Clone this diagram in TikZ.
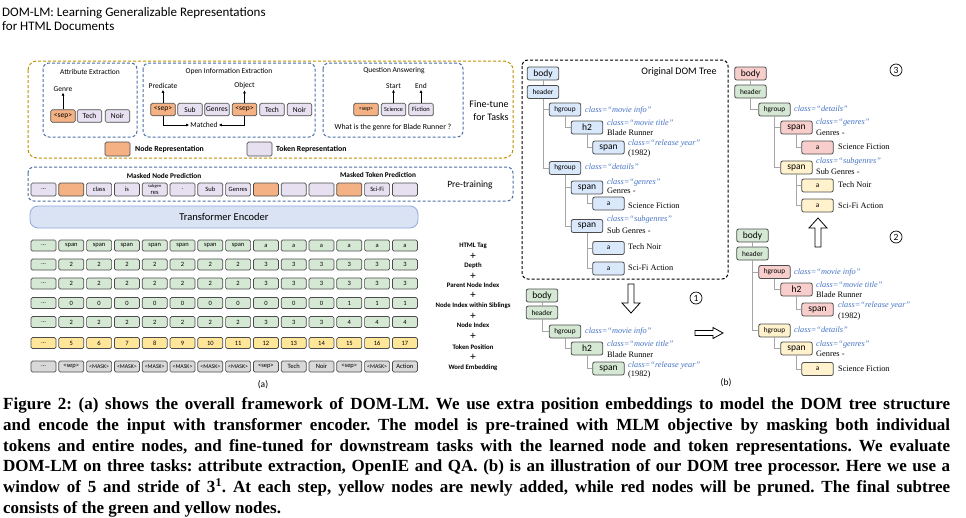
\documentclass[tikz,border=0pt]{standalone}
\usepackage{fontspec}
\setmainfont{Liberation Serif}
\newfontfamily\calib{Carlito}
\usetikzlibrary{arrows.meta}

\definecolor{nodeorg}{HTML}{F4B183}
\definecolor{toklav}{HTML}{E6E0F0}
\definecolor{rowgreen}{HTML}{D5E8D4}
\definecolor{rowyellow}{HTML}{FFE699}
\definecolor{rowgray}{HTML}{D9D9D9}
\definecolor{encblue}{HTML}{DAE3F3}
\definecolor{encline}{HTML}{8FAADC}
\definecolor{taskgold}{HTML}{BF9000}
\definecolor{taskblue}{HTML}{4A6FA8}
\definecolor{domblue}{HTML}{DAE8FC}
\definecolor{domred}{HTML}{F8CECC}
\definecolor{domyellow}{HTML}{FFF2CC}
\definecolor{domgreen}{HTML}{D5E8D4}
\definecolor{clsblue}{HTML}{4472C4}
\definecolor{edgegray}{HTML}{A6A6A6}

\newcommand\maskw{{\fontsize{5.8}{5.8}\selectfont<MASK>}}

\tikzset{
  cell/.style={draw=black!70, rounded corners=1.5pt, minimum width=25pt, minimum height=11pt,
    inner sep=0pt, align=center, line width=0.7pt, font=\calib\fontsize{6.5}{6.5}\selectfont},
  tbox/.style={cell, minimum width=24.5pt, minimum height=12.5pt, font=\calib\fontsize{7.5}{7.5}\selectfont},
  lbl/.style={inner sep=1pt, font=\calib\fontsize{7.5}{7.5}\selectfont},
  blbl/.style={inner sep=1pt, font=\calib\bfseries\fontsize{6.8}{6.8}\selectfont},
  frame/.style={dash pattern=on 3pt off 2pt, line width=1pt, rounded corners=6pt},
  arr/.style={-{Latex[length=3pt,width=3pt]}, line width=0.8pt},
  dom/.style={draw=black!70, rounded corners=2pt, minimum width=31.5pt, minimum height=13pt,
    inner sep=0pt, line width=0.8pt, font=\calib\fontsize{9.5}{9.5}\selectfont},
  domsm/.style={dom, font=\calib\fontsize{7.3}{7.3}\selectfont},
  cls/.style={anchor=mid west, inner sep=0pt, text=clsblue, font=\itshape\fontsize{8.3}{8.3}\selectfont},
  val/.style={anchor=mid west, inner sep=0pt, font=\fontsize{8.3}{8.3}\selectfont},
  tline/.style={draw=edgegray, line width=1pt},
  circled/.style={circle, draw, line width=0.7pt, minimum size=12pt, inner sep=0pt, font=\calib\fontsize{9.5}{9.5}\selectfont},
  hollow/.style={draw, fill=white, line width=0.8pt},
  capline/.style={anchor=base west, inner sep=0pt, font=\frenchspacing\bfseries\fontsize{17}{20}\selectfont}
}

\begin{document}
\begin{tikzpicture}[x=1pt,y=-1pt]
\useasboundingbox (0,0) rectangle (966,517);

% title
\node[anchor=base west, inner sep=0pt, font=\calib\fontsize{13}{13}\selectfont] (title1) at (2,16) {DOM-LM: Learning Generalizable Representations};
\node[anchor=base west, inner sep=0pt, font=\calib\fontsize{13}{13}\selectfont] (title2) at (2,30.5) {for HTML Documents};

% ---------- (a) fine-tune ----------
\draw[frame, draw=taskgold, rounded corners=9pt] (28,61) rectangle (513,158);
\draw[frame, draw=taskblue] (43,63) rectangle (137,137);
\draw[frame, draw=taskblue] (143,63) rectangle (315,137);
\draw[frame, draw=taskblue] (323,63) rectangle (463,137);

\node[lbl] (aetitle) at (90,72) {Attribute Extraction};
\node[tbox, fill=nodeorg] (aesep) at (63,116) {<sep>};
\node[tbox, fill=toklav] (aetech) at (89.5,116) {Tech};
\node[tbox, fill=toklav] (aenoir) at (117.5,116) {Noir};
\node[lbl] (genre) at (63,89) {Genre};
\draw[arr] (aesep.north) -- (genre.south);

\node[lbl] (oietitle) at (229,72) {Open Information Extraction};
\node[tbox, fill=nodeorg] (oiesep1) at (163,109.5) {<sep>};
\node[tbox, fill=toklav] (oiesub) at (190,109.5) {Sub};
\node[tbox, fill=toklav] (oiegen) at (217,109.5) {Genres};
\node[tbox, fill=nodeorg] (oiesep2) at (244.5,109.5) {<sep>};
\node[tbox, fill=toklav] (oietech) at (272,109.5) {Tech};
\node[tbox, fill=toklav] (oienoir) at (299.5,109.5) {Noir};
\node[lbl] (pred) at (163,86) {Predicate};
\node[lbl] (obj) at (244.5,86) {Object};
\node[lbl] (matched) at (204,125) {Matched};
\draw[arr] (oiesep1.north) -- (pred.south);
\draw[arr] (oiesep2.north) -- (obj.south);
\draw[arr] (oiesep1.south) |- (matched.west);
\draw[arr] (oiesep2.south) |- (matched.east);

\node[lbl] (qatitle) at (394,71) {Question Answering};
\node[tbox, fill=nodeorg, font=\calib\fontsize{6}{6}\selectfont] (qsep) at (366,109.5) {<sep>};
\node[tbox, fill=toklav, font=\calib\fontsize{6.2}{6.2}\selectfont] (qsci) at (393.5,109.5) {Science};
\node[tbox, fill=toklav, font=\calib\fontsize{6.5}{6.5}\selectfont] (qfic) at (421,109.5) {Fiction};
\node[lbl] (qstart) at (393.5,86) {Start};
\node[lbl] (qend) at (421,86) {End};
\draw[arr] (qsci.north) -- (qstart.south);
\draw[arr] (qfic.north) -- (qend.south);
\node[lbl, font=\calib\fontsize{7.8}{7.8}\selectfont] (question) at (393,127) {What is the genre for Blade Runner ?};

\node[align=right, inner sep=0pt, font=\calib\fontsize{10}{13}\selectfont] (finetune) at (489,110.5) {Fine-tune\\for Tasks};

\node[tbox, fill=nodeorg, minimum width=25pt, minimum height=14pt] (legnode) at (117.5,149) {};
\node[anchor=west, inner sep=0pt, font=\calib\bfseries\fontsize{7.8}{7.8}\selectfont] (legnodet) at (135,149) {Node Representation};
\node[tbox, fill=toklav, minimum width=25pt, minimum height=14pt] (legtok) at (259.5,149) {};
\node[anchor=west, inner sep=0pt, font=\calib\bfseries\fontsize{7.8}{7.8}\selectfont] (legtokt) at (276,149) {Token Representation};

% ---------- (a) pre-training ----------
\draw[frame, draw=taskblue] (28,167) rectangle (513,201);
\node[blbl, font=\calib\bfseries\fontsize{7.3}{7.3}\selectfont] (mnp) at (164,176) {Masked Node Prediction};
\node[blbl, font=\calib\bfseries\fontsize{7.3}{7.3}\selectfont] (mtp) at (378,174.5) {Masked Token Prediction};
\node[lbl, font=\calib\fontsize{9.5}{9.5}\selectfont] (pretrain) at (470,185) {Pre-training};
\node[cell, fill=toklav, minimum height=13pt] (pt1) at (43.5,189.5) {...};
\foreach \f/\w [count=\i from 2] in {nodeorg/{}, toklav/class, toklav/is, toklav/{\fontsize{4.5}{4.8}\selectfont subgen\\res}, toklav/., toklav/Sub, toklav/Genres, nodeorg/{}, toklav/{}, toklav/{}, nodeorg/{}, toklav/Sci-Fi, toklav/{}}
  \node[cell, fill=\f, minimum height=13pt] (pt\i) at ({43.5+(\i-1)*27.8},189.5) {\w};

\draw[draw=encline, fill=encblue, line width=0.8pt, rounded corners=8pt] (30,206) rectangle (418,228);
\node[inner sep=0pt, font=\calib\fontsize{10.5}{10.5}\selectfont] (encoder) at (224,217) {Transformer Encoder};

% ---------- (a) input rows ----------
\foreach \r/\y/\f in {tag/245.5/rowgreen, dep/264.5/rowgreen, par/283.5/rowgreen, sib/303/rowgreen, nid/322/rowgreen, pos/343/rowyellow, wrd/366.5/rowgray}
  \node[cell, fill=\f] (\r1) at (43.5,\y) {...};
\foreach \w [count=\i from 2] in {span,span,span,span,span,span,span,a,a,a,a,a,a}
  \node[cell, fill=rowgreen] (tag\i) at ({43.5+(\i-1)*27.8},245.5) {\w};
\foreach \w [count=\i from 2] in {2,2,2,2,2,2,2,3,3,3,3,3,3}
  \node[cell, fill=rowgreen] (dep\i) at ({43.5+(\i-1)*27.8},264.5) {\w};
\foreach \w [count=\i from 2] in {2,2,2,2,2,2,2,3,3,3,3,3,3}
  \node[cell, fill=rowgreen] (par\i) at ({43.5+(\i-1)*27.8},283.5) {\w};
\foreach \w [count=\i from 2] in {0,0,0,0,0,0,0,0,0,0,1,1,1}
  \node[cell, fill=rowgreen] (sib\i) at ({43.5+(\i-1)*27.8},303) {\w};
\foreach \w [count=\i from 2] in {2,2,2,2,2,2,2,3,3,3,4,4,4}
  \node[cell, fill=rowgreen] (nid\i) at ({43.5+(\i-1)*27.8},322) {\w};
\foreach \i in {2,...,14}
  \node[cell, fill=rowyellow] (pos\i) at ({43.5+(\i-1)*27.8},343) {\number\numexpr\i+3\relax};
\foreach \w [count=\i from 2] in {<sep>,\maskw,\maskw,\maskw,\maskw,\maskw,\maskw,<sep>,Tech,Noir,<sep>,\maskw,Action}
  \node[cell, fill=rowgray] (wrd\i) at ({43.5+(\i-1)*27.8},366.5) {\w};

\node[blbl] (ltag) at (473,246) {HTML Tag};
\node[blbl] (ldep) at (473,266) {Depth};
\node[blbl] (lpar) at (473,285.5) {Parent Node Index};
\node[blbl] (lsib) at (473,306) {Node Index within Siblings};
\node[blbl] (lnid) at (473,325.5) {Node Index};
\node[blbl] (lpos) at (473,347) {Token Position};
\node[blbl] (lwrd) at (473,368) {Word Embedding};
\foreach \y [count=\k] in {256,276,295.5,316,336.5,357}
  \node[inner sep=0pt, font=\bfseries\fontsize{11}{11}\selectfont] (plus\k) at (473,\y) {+};

\node[inner sep=0pt, font=\calib\fontsize{9.5}{9.5}\selectfont] (suba) at (263,385) {(a)};

% ---------- (b) original DOM tree ----------
\draw[dash pattern=on 3pt off 2pt, line width=1pt, rounded corners=6pt] (522,60) rectangle (728,279);
\node[inner sep=0pt, font=\calib\fontsize{10}{10}\selectfont] (origtitle) at (679,72) {Original DOM Tree};

\node[dom, fill=domblue] (obody) at (543,73.5) {body};
\node[domsm, fill=domblue] (ohdr) at (543,92) {header};
\node[domsm, fill=domblue] (ohg1) at (565,109.5) {hgroup};
\node[dom, fill=domblue] (oh2) at (587,127.5) {h2};
\node[dom, fill=domblue] (ospan1) at (608.5,147.5) {span};
\node[domsm, fill=domblue] (ohg2) at (565,168) {hgroup};
\node[dom, fill=domblue] (ospan2) at (587,187.5) {span};
\node[domsm, fill=domblue] (oa1) at (608.5,203.5) {a};
\node[dom, fill=domblue] (ospan3) at (587,226) {span};
\node[domsm, fill=domblue] (oa2) at (608.5,248) {a};
\node[domsm, fill=domblue] (oa3) at (608.5,268.5) {a};
\draw[tline] (obody) -- (ohdr);
\draw[tline] (ohdr.south) |- (ohg1.west);
\draw[tline] (ohdr.south) |- (ohg2.west);
\draw[tline] (ohg1.south) |- (oh2.west);
\draw[tline] (oh2.south) |- (ospan1.west);
\draw[tline] (ohg2.south) |- (ospan2.west);
\draw[tline] (ohg2.south) |- (ospan3.west);
\draw[tline] (ospan2.south) |- (oa1.west);
\draw[tline] (ospan3.south) |- (oa2.west);
\draw[tline] (ospan3.south) |- (oa3.west);
\node[cls] (ohg1c) at (585,110) {class=``movie info''};
\node[cls] (oh2c) at (607,123.3) {class=``movie title''};
\node[val] (oh2v) at (607,133.7) {Blade Runner};
\node[cls] (ospan1c) at (628,143.3) {class=``release year''};
\node[val] (ospan1v) at (628,153.7) {(1982)};
\node[cls] (ohg2c) at (585,167.7) {class=``details''};
\node[cls] (ospan2c) at (607,182.3) {class=``genres''};
\node[val] (ospan2v) at (607,191.7) {Genres -};
\node[val] (oa1v) at (628,206.5) {Science Fiction};
\node[cls] (ospan3c) at (607,219.3) {class=``subgenres''};
\node[val] (ospan3v) at (607,231) {Sub Genres -};
\node[val] (oa2v) at (628,247.5) {Tech Noir};
\node[val] (oa3v) at (628,267.7) {Sci-Fi Action};

% step 1 window
\draw[hollow] (628,284) -- (634,284) -- (634,303) -- (640,303) -- (631,313) -- (622,303) -- (628,303) -- cycle;
\node[circled] (step1) at (696,298) {1};

\node[dom, fill=domgreen] (gbody) at (542,295.5) {body};
\node[domsm, fill=domgreen] (ghdr) at (542,312.5) {header};
\node[domsm, fill=domgreen] (ghg) at (565,331.5) {hgroup};
\node[dom, fill=domgreen] (gh2) at (587,348.5) {h2};
\node[dom, fill=domgreen] (gspan) at (608.5,368.5) {span};
\draw[tline] (gbody) -- (ghdr);
\draw[tline] (ghdr.south) |- (ghg.west);
\draw[tline] (ghg.south) |- (gh2.west);
\draw[tline] (gh2.south) |- (gspan.west);
\node[cls] (ghgc) at (585,331) {class=``movie info''};
\node[cls] (gh2c) at (607,344.3) {class=``movie title''};
\node[val] (gh2v) at (607,355) {Blade Runner};
\node[cls] (gspanc) at (628,365) {class=``release year''};
\node[val] (gspanv) at (628,374.5) {(1982)};

\draw[hollow] (695,330.5) -- (713,330.5) -- (713,327.5) -- (723,333) -- (713,338.5) -- (713,335.5) -- (695,335.5) -- cycle;
\node[inner sep=0pt, font=\calib\fontsize{9.5}{9.5}\selectfont] (subb) at (726,383) {(b)};

% step 2 window
\node[circled] (step2) at (896,237) {2};
\node[dom, fill=domgreen] (sbody) at (752.5,235.5) {body};
\node[domsm, fill=domgreen] (shdr) at (752.5,253.5) {header};
\node[domsm, fill=domred] (shg1) at (774.5,272) {hgroup};
\node[dom, fill=domred] (sh2) at (796.5,289.5) {h2};
\node[dom, fill=domred] (sspan1) at (817.5,309.5) {span};
\node[domsm, fill=domyellow] (shg2) at (774.5,330.5) {hgroup};
\node[dom, fill=domyellow] (sspan2) at (796.5,348.5) {span};
\node[domsm, fill=domyellow] (sa) at (817.5,369) {a};
\draw[tline] (sbody) -- (shdr);
\draw[tline] (shdr.south) |- (shg1.west);
\draw[tline] (shdr.south) |- (shg2.west);
\draw[tline] (shg1.south) |- (sh2.west);
\draw[tline] (sh2.south) |- (sspan1.west);
\draw[tline] (shg2.south) |- (sspan2.west);
\draw[tline] (sspan2.south) |- (sa.west);
\node[cls] (shg1c) at (794,272.3) {class=``movie info''};
\node[cls] (sh2c) at (816,285.3) {class=``movie title''};
\node[val] (sh2v) at (816,295.3) {Blade Runner};
\node[cls] (sspan1c) at (838,305) {class=``release year''};
\node[val] (sspan1v) at (838,315.7) {(1982)};
\node[cls] (shg2c) at (794,329.7) {class=``details''};
\node[cls] (sspan2c) at (816,344.3) {class=``genres''};
\node[val] (sspan2v) at (816,354.3) {Genres -};
\node[val] (sav) at (838,369) {Science Fiction};

\draw[hollow] (815,247) -- (821,247) -- (821,228) -- (827,228) -- (818,218) -- (809,228) -- (815,228) -- cycle;

% step 3 window
\node[circled] (step3) at (896,70) {3};
\node[dom, fill=domred] (tbody) at (750.5,73.5) {body};
\node[domsm, fill=domgreen] (thdr) at (750.5,91.5) {header};
\node[domsm, fill=domgreen] (thg) at (774.5,109.5) {hgroup};
\node[dom, fill=domred] (tspan1) at (796.5,127.5) {span};
\node[domsm, fill=domred] (ta1) at (817.5,147.5) {a};
\node[dom, fill=domyellow] (tspan2) at (796.5,167.5) {span};
\node[domsm, fill=domyellow] (ta2) at (817.5,185.5) {a};
\node[domsm, fill=domyellow] (ta3) at (817.5,205.5) {a};
\draw[tline] (tbody) -- (thdr);
\draw[tline] (thdr.south) |- (thg.west);
\draw[tline] (thg.south) |- (tspan1.west);
\draw[tline] (thg.south) |- (tspan2.west);
\draw[tline] (tspan1.south) |- (ta1.west);
\draw[tline] (tspan2.south) |- (ta2.west);
\draw[tline] (tspan2.south) |- (ta3.west);
\node[cls] (thgc) at (794,109) {class=``details''};
\node[cls] (tspan1c) at (816,122.3) {class=``genres''};
\node[val] (tspan1v) at (816,133) {Genres -};
\node[val] (ta1v) at (838,147.7) {Science Fiction};
\node[cls] (tspan2c) at (816,161.7) {class=``subgenres''};
\node[val] (tspan2v) at (816,172.3) {Sub Genres -};
\node[val] (ta2v) at (838,185.7) {Tech Noir};
\node[val] (ta3v) at (838,205.7) {Sci-Fi Action};

% caption
\foreach \t [count=\k] in {
  {Figure 2: (a) shows the overall framework of DOM-LM. We use extra position embeddings to model the DOM tree structure},
  {and encode the input with transformer encoder. The model is pre-trained with MLM objective by masking both individual},
  {tokens and entire nodes, and fine-tuned for downstream tasks with the learned node and token representations. We evaluate},
  {DOM-LM on three tasks: attribute extraction, OpenIE and QA. (b) is an illustration of our DOM tree processor. Here we use a},
  {window of 5 and stride of 3\textsuperscript{1}. At each step, yellow nodes are newly added, while red nodes will be pruned. The final subtree}}
  \node[capline] (cap\k) at (3,{388.7+\k*20.8}) {\makebox[947pt][s]{\t}};
\node[capline] (cap6) at (3,513.5) {consists of the green and yellow nodes.};
\end{tikzpicture}
\end{document}
